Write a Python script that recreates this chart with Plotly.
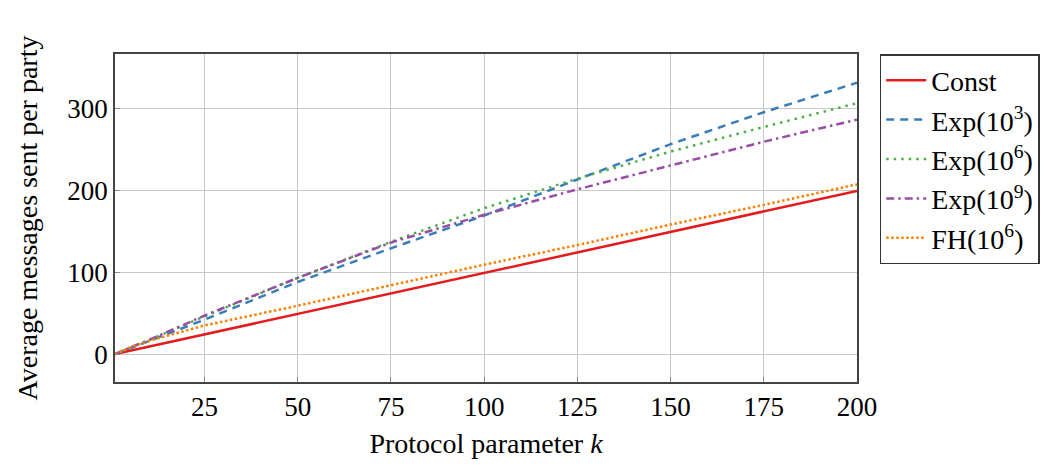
import plotly.graph_objects as go

k_vals = [1, 5, 10, 25, 50, 75, 100, 125, 150, 175, 200]
const_vals = [1, 5, 10, 25, 50, 75, 100, 125, 150, 175, 200]
exp3_vals = [1, 8, 16, 43, 89, 130, 170, 214, 257, 296, 332]
exp6_vals = [1, 9, 18, 47, 94, 138, 179, 215, 248, 278, 307]
exp9_vals = [1, 9, 18, 48, 94, 137, 171, 202, 231, 260, 287]
fh_vals = [1, 9, 17, 36, 60, 85, 110, 134, 159, 183, 208]

x_ticks = [25, 50, 75, 100, 125, 150, 175, 200]
y_ticks = [0, 100, 200, 300]

FONT = "Liberation Serif"
FS = 27

series = [
    ("Const", const_vals, "#e41a1c", "solid"),
    ("Exp(10<sup>3</sup>)", exp3_vals, "#377eb8", "8px,6px"),
    ("Exp(10<sup>6</sup>)", exp6_vals, "#4daf4a", "2.5px,5px"),
    ("Exp(10<sup>9</sup>)", exp9_vals, "#984ea3", "8px,4px,2.5px,4px"),
    ("FH(10<sup>6</sup>)", fh_vals, "#ff7f00", "2.5px,2.5px"),
]

fig = go.Figure()
for name, vals, color, dash in series:
    fig.add_trace(go.Scatter(
        x=k_vals, y=vals, mode="lines", name=name,
        line=dict(color=color, width=2.5, dash=dash),
    ))

axis_common = dict(
    showgrid=True, gridcolor="#c8c8c8", gridwidth=1,
    showline=True, linecolor="#444444", linewidth=1.5, mirror=True,
    ticks="inside", ticklen=5, tickcolor="#888888",
    zeroline=False,
    tickfont=dict(family=FONT, size=FS, color="black"),
)

fig.update_xaxes(
    range=[1, 200], tickvals=x_ticks,
    title=dict(text="Protocol parameter <i>k</i>", font=dict(family=FONT, size=FS + 1, color="black"), standoff=12),
    **axis_common,
)
fig.update_yaxes(
    range=[-33, 367], tickvals=y_ticks,
    title=dict(text="Average messages sent per party", font=dict(family=FONT, size=FS + 1, color="black"), standoff=22),
    **axis_common,
)

fig.update_layout(
    width=1051, height=458,
    margin=dict(l=107, r=202, t=46, b=78),
    plot_bgcolor="white", paper_bgcolor="white",
    font=dict(family=FONT, size=FS, color="black"),
    legend=dict(
        x=1.0306, y=1.0, xanchor="left", yanchor="top",
        bordercolor="#333333", borderwidth=1.5,
        font=dict(family=FONT, size=FS + 1, color="black"),
        tracegroupgap=0, itemwidth=40,
    ),
    showlegend=True,
)

fig.write_html("out.html")
